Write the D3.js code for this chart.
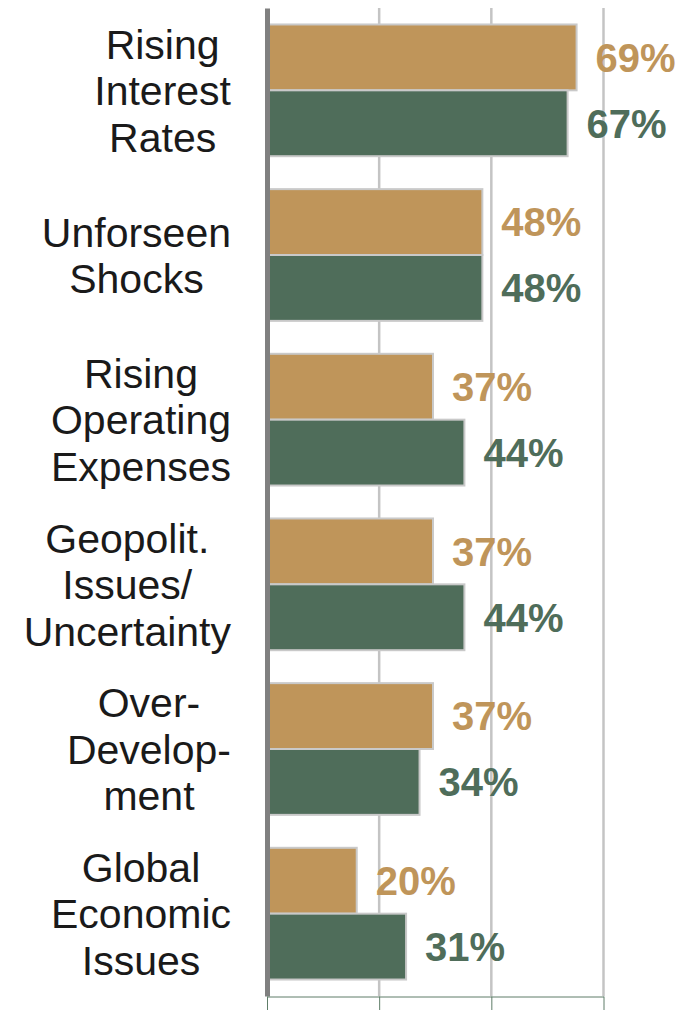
<!DOCTYPE html>
<html>
<head>
<meta charset="utf-8">
<script src="https://cdn.jsdelivr.net/npm/d3@7/dist/d3.min.js"></script>
<style>
  html, body { margin: 0; padding: 0; background: #fff; }
  svg { display: block; }
  text { font-family: "Liberation Sans", Arial, Helvetica, sans-serif; }
</style>
</head>
<body>
<svg id="chart" width="686" height="1010"></svg>
<script>
// Risk categories, each split into display lines
const categories = [
  "Rising Interest Rates",
  "Unforseen Shocks",
  "Rising Operating Expenses",
  "Geopolit. Issues/ Uncertainty",
  "Over-Development",
  "Global Economic Issues"
];
const categoryLines = [
  ["Rising", "Interest", "Rates"],
  ["Unforseen", "Shocks"],
  ["Rising", "Operating", "Expenses"],
  ["Geopolit.", "Issues/", "Uncertainty"],
  ["Over-", "Develop-", "ment"],
  ["Global", "Economic", "Issues"]
];
// Share of respondents (%) for the two series
const seriesTop = [69, 48, 37, 37, 37, 20];
const seriesBottom = [67, 48, 44, 44, 34, 31];
const seriesKeys = ["top", "bottom"];
const xTicks = [0, 25, 50, 75];

const colors = { top: "#bf955a", bottom: "#4f6d5a" };

const svg = d3.select("#chart");
const margin = { left: 267, right: 83, top: 8, bottom: 14 };
const W = 686, H = 1010;

const x = d3.scaleLinear().domain([0, 75]).range([margin.left, W - margin.right + 0.5]);
const y = d3.scaleBand().domain(categories).range([margin.top, H - margin.bottom]).paddingInner(0.2).paddingOuter(0.1);
const ySub = d3.scaleBand().domain(seriesKeys).range([0, y.bandwidth()]);

const rows = categories.map((c, i) => ({
  category: c,
  lines: categoryLines[i],
  values: [
    { key: "top", value: seriesTop[i] },
    { key: "bottom", value: seriesBottom[i] }
  ]
}));

// Vertical gridlines
svg.append("g")
  .selectAll("line")
  .data(xTicks.filter(t => t > 0))
  .join("line")
  .attr("x1", d => x(d)).attr("x2", d => x(d))
  .attr("y1", margin.top).attr("y2", H - margin.bottom)
  .attr("stroke", "#c4c4c4")
  .attr("stroke-width", 2.5);

// Bars
const groups = svg.append("g")
  .selectAll("g")
  .data(rows)
  .join("g")
  .attr("transform", d => `translate(0,${y(d.category)})`);

groups.selectAll("rect")
  .data(d => d.values)
  .join("rect")
  .attr("x", x(0))
  .attr("y", d => ySub(d.key))
  .attr("width", d => x(d.value) - x(0))
  .attr("height", ySub.bandwidth())
  .attr("fill", d => colors[d.key])
  .attr("stroke", "#c9c9c9")
  .attr("stroke-width", 2);

// Value labels
groups.selectAll("text.value")
  .data(d => d.values)
  .join("text")
  .attr("class", "value")
  .attr("x", d => x(d.value) + 19)
  .attr("y", d => ySub(d.key) + ySub.bandwidth() / 2)
  .attr("dy", "0.36em")
  .attr("fill", d => colors[d.key])
  .attr("font-size", 40)
  .attr("font-weight", "bold")
  .text(d => d.value + "%");

// Left axis (thick grey rule)
const yAxis = svg.append("g")
  .attr("transform", `translate(${x(0)},0)`)
  .call(d3.axisLeft(y).tickSize(0).tickFormat(""));
yAxis.select(".domain").attr("stroke", "#808080").attr("stroke-width", 5);

// Bottom axis
const xAxis = svg.append("g")
  .attr("transform", `translate(0,${H - margin.bottom + 0.5})`)
  .call(d3.axisBottom(x).tickValues(xTicks).tickSize(14).tickSizeOuter(0).tickFormat(""));
xAxis.select(".domain").attr("stroke", "#5e7d68").attr("stroke-width", 1);
xAxis.selectAll(".tick line").attr("stroke", "#5e7d68").attr("stroke-width", 1);

// Category labels: each block centred on itself, right edge aligned
const labelRight = 231;
const lineH = 46.5;
const labels = svg.append("g")
  .selectAll("text")
  .data(rows)
  .join("text")
  .attr("font-size", 41)
  .attr("fill", "#1a1a1a")
  .attr("text-anchor", "middle");

labels.each(function (d) {
  const t = d3.select(this);
  const n = d.lines.length;
  const cy = y(d.category) + y.bandwidth() / 2;
  d.lines.forEach((ln, i) => {
    t.append("tspan")
      .attr("y", cy + (i - (n - 1) / 2) * lineH)
      .attr("dy", "0.36em")
      .text(ln);
  });
  let maxW = 0;
  t.selectAll("tspan").each(function () {
    maxW = Math.max(maxW, this.getComputedTextLength());
  });
  t.selectAll("tspan").attr("x", labelRight - maxW / 2);
});
</script>
</body>
</html>
